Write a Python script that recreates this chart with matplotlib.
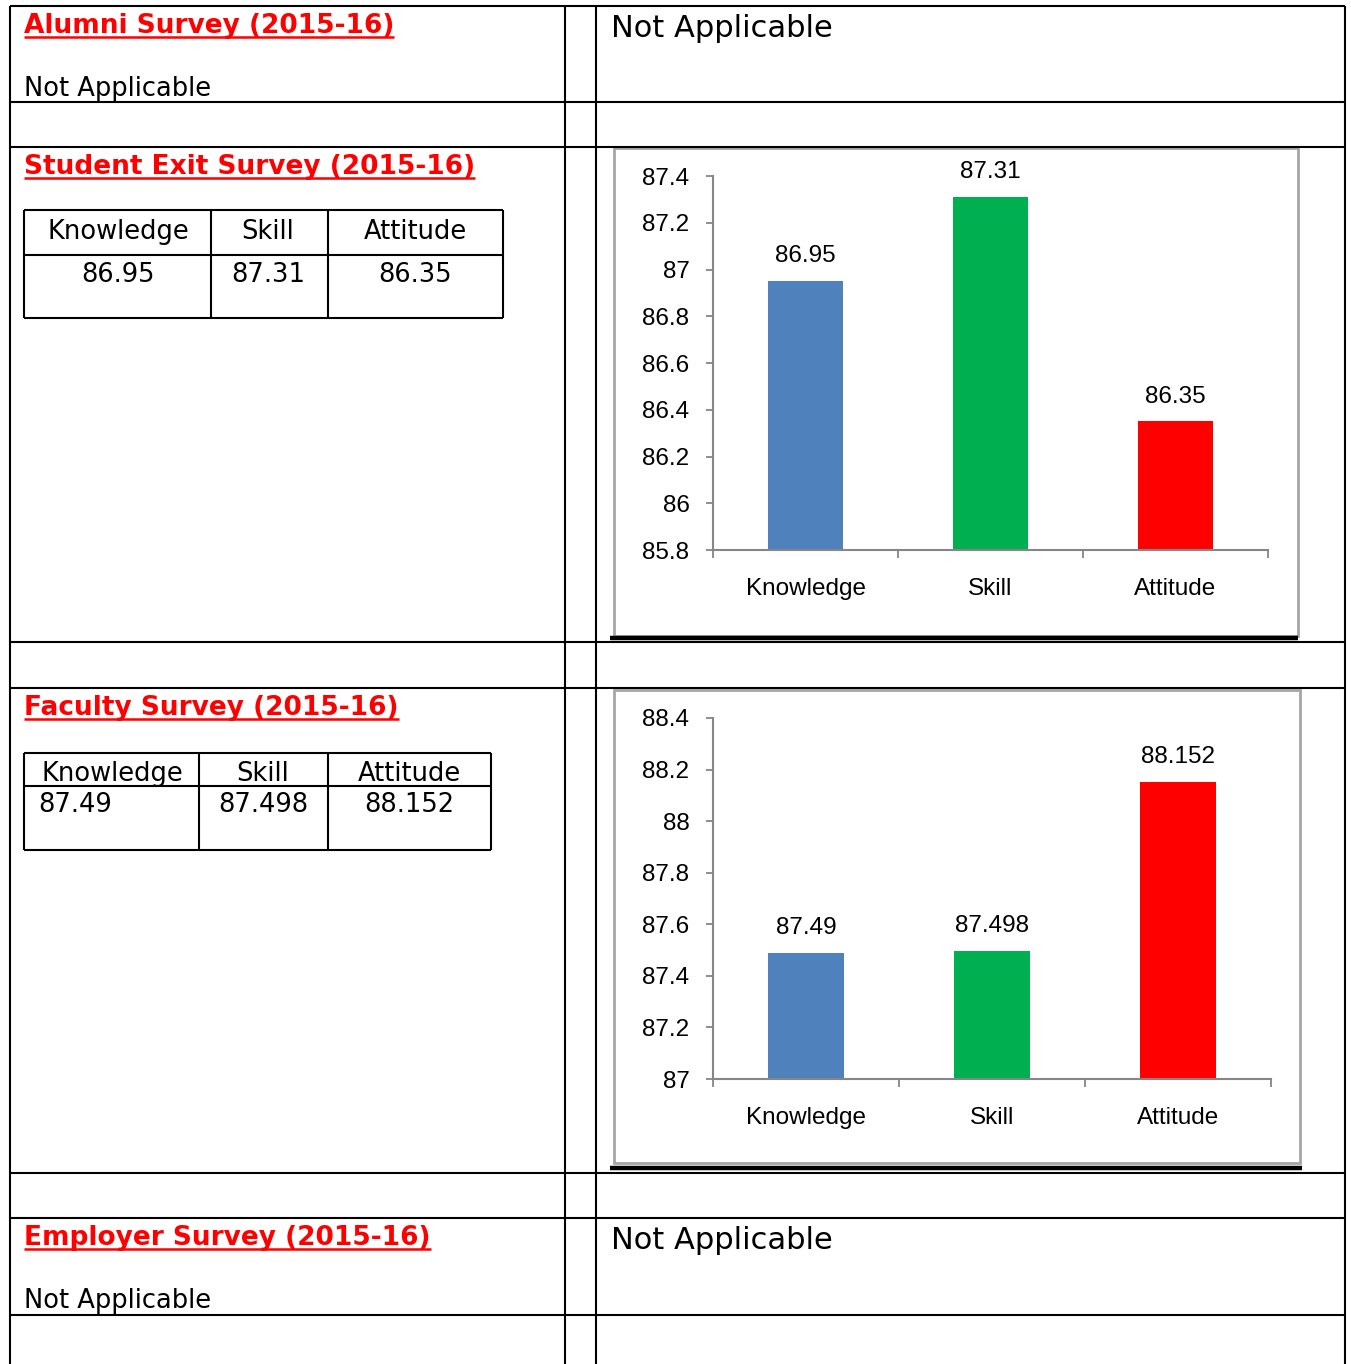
import matplotlib
matplotlib.use("Agg")
import matplotlib.pyplot as plt

# data
categories = ["Knowledge", "Skill", "Attitude"]
exit_values = [86.95, 87.31, 86.35]
exit_labels = ["86.95", "87.31", "86.35"]
faculty_values = [87.49, 87.498, 88.152]
faculty_labels = ["87.49", "87.498", "88.152"]
exit_yticks = [85.8, 86, 86.2, 86.4, 86.6, 86.8, 87, 87.2, 87.4]
exit_ytick_labels = ["85.8", "86", "86.2", "86.4", "86.6", "86.8", "87", "87.2", "87.4"]
faculty_yticks = [87, 87.2, 87.4, 87.6, 87.8, 88, 88.2, 88.4]
faculty_ytick_labels = ["87", "87.2", "87.4", "87.6", "87.8", "88", "88.2", "88.4"]
bar_colors = ["#4F81BD", "#00B050", "#FF0000"]

W, H = 1351, 1364
fig = plt.figure(figsize=(W / 100, H / 100), dpi=100)
bg = fig.add_axes([0, 0, 1, 1])
bg.set_xlim(0, W)
bg.set_ylim(H, 0)
bg.axis("off")

doc_font = ["DejaVu Sans"]
chart_font = ["Liberation Sans Narrow", "Liberation Sans", "DejaVu Sans"]
TXT = 18.5
CH = 17.5


def hline(y, x0, x1, lw=1.5, color="black"):
    bg.plot([x0, x1], [y, y], color=color, lw=lw, solid_capstyle="butt")


def vline(x, y0, y1, lw=1.5, color="black"):
    bg.plot([x, x], [y0, y1], color=color, lw=lw, solid_capstyle="butt")


# outer table
for y in [6, 102, 147, 642, 688, 1173, 1218, 1315]:
    hline(y, 10, 1345)
for x in [10, 565, 596, 1345]:
    vline(x, 6, H)

titles = []


def title(x, y, s):
    t = bg.text(x, y, s, color="#FF0000", fontsize=19, fontweight="bold",
                family=doc_font, va="baseline", ha="left")
    titles.append(t)


title(24, 33, "Alumni Survey (2015-16)")
title(24, 174, "Student Exit Survey (2015-16)")
title(24, 715, "Faculty Survey (2015-16)")
title(24, 1245, "Employer Survey (2015-16)")

bg.text(24, 96, "Not Applicable", fontsize=18.5, family=doc_font, va="baseline")
bg.text(24, 1308, "Not Applicable", fontsize=18.5, family=doc_font, va="baseline")
bg.text(611, 37, "Not Applicable", fontsize=22, family=doc_font, va="baseline")
bg.text(611, 1249, "Not Applicable", fontsize=22, family=doc_font, va="baseline")

# small table 1
hline(210, 24, 503); hline(255, 24, 503); hline(318, 24, 503)
for x in [24, 211, 328, 503]:
    vline(x, 210, 318)
for cx, head, val in zip([118, 268, 415], categories, exit_labels):
    bg.text(cx, 239, head, fontsize=TXT, family=doc_font, ha="center", va="baseline")
    bg.text(cx, 282, val, fontsize=TXT, family=doc_font, ha="center", va="baseline")

# small table 2
hline(753, 24, 491); hline(786, 24, 491); hline(850, 24, 491)
for x in [24, 199, 328, 491]:
    vline(x, 753, 850)
for cx, head in zip([112, 263, 409], categories):
    bg.text(cx, 781, head, fontsize=TXT, family=doc_font, ha="center", va="baseline")
bg.text(38, 812, faculty_labels[0], fontsize=TXT, family=doc_font, ha="left", va="baseline")
bg.text(263, 812, faculty_labels[1], fontsize=TXT, family=doc_font, ha="center", va="baseline")
bg.text(409, 812, faculty_labels[2], fontsize=TXT, family=doc_font, ha="center", va="baseline")


def chart(box, frame, shadow, values, labels, yticks, yticklabels):
    # frame + thick line under it
    fx0, fy0, fx1, fy1 = frame
    bg.add_patch(plt.Rectangle((fx0, fy0), fx1 - fx0, fy1 - fy0, fill=False,
                               edgecolor="#A6A6A6", lw=2))
    hline(shadow[2], shadow[0], shadow[1], lw=3.2)
    x0, y0, x1, y1 = box
    ax = fig.add_axes([x0 / W, 1 - y1 / H, (x1 - x0) / W, (y1 - y0) / H])
    ax.bar(range(len(values)), values, width=0.405, color=bar_colors, zorder=2)
    ax.set_ylim(yticks[0], yticks[-1])
    ax.set_xlim(-0.5, len(values) - 0.5)
    ax.set_yticks(yticks)
    ax.set_yticklabels(yticklabels, family=chart_font, fontsize=CH)
    ax.set_xticks([-0.5, 0.5, 1.5, 2.5])
    ax.set_xticklabels([])
    ax.set_xticks(range(len(values)), minor=True)
    ax.set_xticklabels(categories, minor=True, family=chart_font, fontsize=CH)
    ax.tick_params(axis="x", which="minor", length=0, pad=20)
    ax.tick_params(axis="x", which="major", length=6, width=1.3, color="#868686")
    ax.tick_params(axis="y", length=5, width=1.3, color="#868686", pad=12)
    for sp in ["top", "right"]:
        ax.spines[sp].set_visible(False)
    for sp in ["left", "bottom"]:
        ax.spines[sp].set_color("#868686")
        ax.spines[sp].set_linewidth(1.5)
    ax.patch.set_alpha(0)
    for i, (v, lab) in enumerate(zip(values, labels)):
        ax.annotate(lab, (i, v), xytext=(0, 10), textcoords="offset points",
                    ha="center", va="bottom", family=chart_font, fontsize=CH)
    return ax


chart((713, 176, 1268, 550), (614, 148, 1298, 636), (610, 1298, 638),
      exit_values, exit_labels, exit_yticks, exit_ytick_labels)
chart((713, 718, 1271, 1079), (614, 690, 1300, 1163), (610, 1302, 1168),
      faculty_values, faculty_labels, faculty_yticks, faculty_ytick_labels)

# underline the red titles
fig.canvas.draw()
r = fig.canvas.get_renderer()
inv = bg.transData.inverted()
for t in titles:
    bb = t.get_window_extent(r)
    (xa, _), (xb, _) = inv.transform([(bb.x0, bb.y0), (bb.x1, bb.y0)])
    yb = t.get_position()[1] + 4
    hline(yb, xa, xb, lw=1.8, color="#FF0000")

fig.savefig("out.png", dpi=100)
